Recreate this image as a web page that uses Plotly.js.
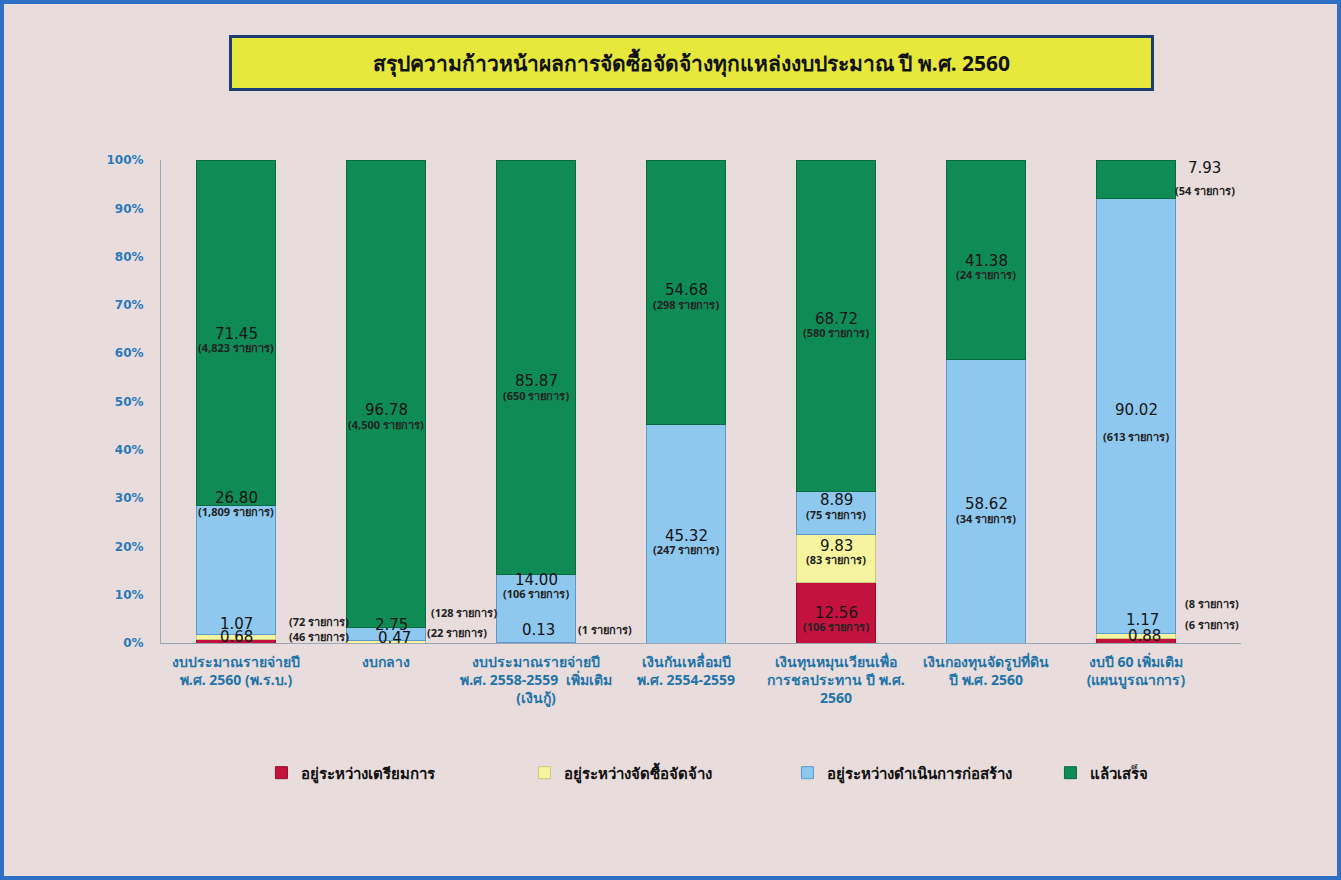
<!DOCTYPE html>
<html><head><meta charset="utf-8">
<script src="https://cdn.plot.ly/plotly-3.0.1.min.js"></script>
<style>
html,body{margin:0;padding:0;background:#e8dcdc;}
#frame{width:1341px;height:880px;box-sizing:border-box;border:4px solid #2f6fc4;background:#e8dcdc;}
#chart{width:1333px;height:872px;}
</style></head><body><div id="frame"><div id="chart"></div></div>
<script>
// ---- data ----
const categories = [
  'งบประมาณรายจ่ายปี<br>พ.ศ. 2560 (พ.ร.บ.)',
  'งบกลาง',
  'งบประมาณรายจ่ายปี<br>พ.ศ. 2558-2559  เพิ่มเติม<br>(เงินกู้)',
  'เงินกันเหลื่อมปี<br>พ.ศ. 2554-2559',
  'เงินทุนหมุนเวียนเพื่อ<br>การชลประทาน ปี พ.ศ.<br>2560',
  'เงินกองทุนจัดรูปที่ดิน<br>ปี พ.ศ. 2560',
  'งบปี 60 เพิ่มเติม<br>(แผนบูรณาการ)'
];
const seriesNames = ['อยู่ระหว่างเตรียมการ','อยู่ระหว่างจัดซื้อจัดจ้าง','อยู่ระหว่างดำเนินการก่อสร้าง','แล้วเสร็จ'];
const preparing    = [0.68, 0,     0,     0,     12.56, 0,     0.88];
const procuring    = [1.07, 0.47,  0.13,  0,     9.83,  0,     1.17];
const constructing = [26.80, 2.75, 14.00, 45.32, 8.89,  58.62, 90.02];
const completed    = [71.45, 96.78, 85.87, 54.68, 68.72, 41.38, 7.93];
const preparingCount    = [46, null, null, null, 106, null, 6];
const procuringCount    = [72, 22, 1, null, 83, null, 8];
const constructingCount = [1809, 128, 106, 247, 75, 34, 613];
const completedCount    = [4823, 4500, 650, 298, 580, 24, 54];
const yTickVals = [0,10,20,30,40,50,60,70,80,90,100];
const yTickText = ['0%','10%','20%','30%','40%','50%','60%','70%','80%','90%','100%'];
const titleText = 'สรุปความก้าวหน้าผลการจัดซื้อจัดจ้างทุกแหล่งงบประมาณ ปี พ.ศ. 2560';
const unitWord = 'รายการ';

// ---- style ----
const colors = ['#c4123f', '#f6f49e', '#8fc8ef', '#0f8c56'];
const lineColors = ['#8e0f2c', '#c9c77a', '#5c9acb', '#0a6a40'];
const labelFont = "Tahoma, 'DejaVu Sans', 'Noto Sans', sans-serif";
const thaiFont = "Tahoma, 'Noto Sans', 'DejaVu Sans', sans-serif";

const values = [preparing, procuring, constructing, completed];
const counts = [preparingCount, procuringCount, constructingCount, completedCount];

// label placement (pixel shifts relative to segment centre): [numDx, numDy, cntDx, cntDy]
const place = [
  [[0,4,83,5], null, null, null, [0,0,0,-14], null, [8,5,76,16]],
  [[0,13,83,16], [8,4,71,9], [2,13,69,13], null, [0,13,0,-1], null, [6,16,76,32]],
  [[0,72,0,58], [5,9,78,22], [0,29,0,15], [0,-2,0,-16], [0,13,0,-1], [0,-3,0,-17], [0,6,0,-21]],
  [[0,-1,0,-15], [0,-16,0,-31], [0,-14,0,-28], [0,2,0,-12], [0,7,0,-7], [0,-1,0,-15], [68,11,69,-11]]
];

const traces = seriesNames.map((n, s) => ({
  type: 'bar', name: n, x: categories, y: values[s],
  marker: {color: colors[s], line: {color: lineColors[s], width: 1}},
  hoverinfo: 'skip'
}));

const annotations = [];
for (let i = 0; i < categories.length; i++) {
  let base = 0;
  for (let s = 0; s < 4; s++) {
    const v = values[s][i];
    if (v > 0) {
      const mid = base + v / 2;
      const p = place[s][i] || [0,7,0,-8];
      annotations.push({x: categories[i], y: mid, xref: 'x', yref: 'y', text: v.toFixed(2),
        showarrow: false, xshift: p[0], yshift: p[1], font: {family: labelFont, size: 15, color: '#141414'}});
      const c = counts[s][i];
      if (c !== null) {
        annotations.push({x: categories[i], y: mid, xref: 'x', yref: 'y',
          text: '<b>(' + c.toLocaleString('en-US') + ' ' + unitWord + ')</b>',
          showarrow: false, xshift: p[2], yshift: p[3], font: {family: thaiFont, size: 11, color: '#222'}});
      }
    }
    base += v;
  }
}
annotations.push({xref: 'paper', yref: 'paper', x: 0.491, y: 1.201, xanchor: 'center', yanchor: 'middle',
  text: '<b>' + titleText + '</b>', showarrow: false, width: 915, height: 46, borderpad: 2,
  bgcolor: '#e6e93c', bordercolor: '#1d3e74', borderwidth: 3,
  font: {family: thaiFont, size: 21, color: '#111'}});

const layout = {
  width: 1333, height: 872,
  margin: {l: 157, r: 96, t: 156, b: 233},
  paper_bgcolor: '#e8dcdc', plot_bgcolor: 'rgba(0,0,0,0)',
  barmode: 'stack', bargap: 0.47,
  showlegend: true,
  legend: {orientation: 'h', x: 0.093, y: -0.269, xanchor: 'left', yanchor: 'middle',
    entrywidth: 218, entrywidthmode: 'pixels', traceorder: 'normal',
    font: {family: thaiFont, size: 15, color: '#111', weight: 'bold'}, bgcolor: 'rgba(0,0,0,0)'},
  xaxis: {type: 'category', showline: true, linecolor: '#9aa5b5', linewidth: 1, ticks: '',
    tickfont: {family: thaiFont, size: 14, color: '#1f74a8', weight: 'bold'}, showgrid: false,
    ticklabelstandoff: 6},
  yaxis: {range: [0, 100], tickmode: 'array', tickvals: yTickVals, ticktext: yTickText,
    showline: true, linecolor: '#9aa5b5', linewidth: 1, ticks: '', showgrid: false, zeroline: false,
    tickfont: {family: labelFont, size: 12, color: '#2a7ab8', weight: 'bold'}, ticklabelstandoff: 14},
  annotations: annotations
};
Plotly.newPlot('chart', traces, layout, {displayModeBar: false, staticPlot: true});
</script></body></html>
